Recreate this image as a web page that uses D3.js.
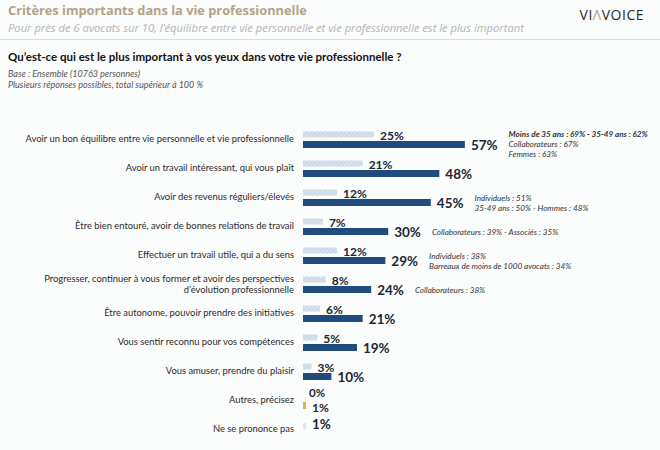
<!DOCTYPE html>
<html>
<head>
<meta charset="utf-8">
<script src="https://cdn.jsdelivr.net/npm/d3@7/dist/d3.min.js"></script>
<style>
  html, body { margin: 0; padding: 0; background: #fbfcfc; }
  svg { display: block; }
</style>
</head>
<body>
<script>
// ---- Data ----
const categories = [
  "Avoir un bon équilibre entre vie personnelle et vie professionnelle",
  "Avoir un travail intéressant, qui vous plaît",
  "Avoir des revenus réguliers/élevés",
  "Être bien entouré, avoir de bonnes relations de travail",
  "Effectuer un travail utile, qui a du sens",
  "Progresser, continuer à vous former et avoir des perspectives\nd’évolution professionnelle",
  "Être autonome, pouvoir prendre des initiatives",
  "Vous sentir reconnu pour vos compétences",
  "Vous amuser, prendre du plaisir",
  "Autres, précisez",
  "Ne se prononce pas"
];
const firstValues = [25, 21, 12, 7, 12, 8, 6, 5, 3, 0, null];
const totalValues = [57, 48, 45, 30, 29, 24, 21, 19, 10, 1, null];
const noAnswerValue = [null, null, null, null, null, null, null, null, null, null, 1];
const notes = [
  [{t: "Moins de 35 ans : 69% - 35-49 ans : 62%", b: true}, {t: "Collaborateurs : 67%"}, {t: "Femmes : 63%"}],
  [],
  [{t: "Individuels : 51%"}, {t: "35-49 ans : 50% - Hommes : 48%"}],
  [{t: "Collaborateurs : 39% - Associés : 35%"}],
  [{t: "Individuels : 38%"}, {t: "Barreaux de moins de 1000 avocats : 34%"}],
  [{t: "Collaborateurs : 38%"}],
  [], [], [], [], []
];
const titleText = "Critères importants dans la vie professionnelle";
const subtitleText = "Pour près de 6 avocats sur 10, l’équilibre entre vie personnelle et vie professionnelle est le plus important";
const questionText = "Qu’est-ce qui est le plus important à vos yeux dans votre vie professionnelle ?";
const baseLines = ["Base : Ensemble (10763 personnes)", "Plusieurs réponses possibles, total supérieur à 100 %"];

// ---- Layout ----
const W = 660, H = 450;
const svg = d3.select("body").append("svg").attr("width", W).attr("height", H);
const FONT = "Lato, 'Open Sans', sans-serif";

svg.append("rect").attr("width", W).attr("height", H).attr("fill", "#fbfcfc");

const defs = svg.append("defs");
const pat = defs.append("pattern").attr("id", "hatch").attr("patternUnits", "userSpaceOnUse")
  .attr("width", 3).attr("height", 3).attr("patternTransform", "rotate(45)");
pat.append("rect").attr("width", 3).attr("height", 3).attr("fill", "#c9d8e7");
pat.append("line").attr("x1", 0).attr("y1", 0).attr("x2", 0).attr("y2", 3)
  .attr("stroke", "#f2f6fa").attr("stroke-width", 1.2);

// Header
svg.append("text").attr("x", 8).attr("y", 15).text(titleText)
  .attr("font-family", "'Open Sans', sans-serif").attr("font-weight", 700)
  .attr("font-size", 12.8).attr("fill", "#b3a386");
svg.append("text").attr("x", 8).attr("y", 32).text(subtitleText)
  .attr("font-family", "'Open Sans', sans-serif").attr("font-style", "italic")
  .attr("font-size", 11.2).attr("fill", "#b4b4b4");
svg.append("line").attr("x1", 0).attr("x2", W).attr("y1", 39.5).attr("y2", 39.5)
  .attr("stroke", "#dcdcdc").attr("stroke-width", 1.2);

const logo = svg.append("text").attr("x", 644).attr("y", 20).attr("text-anchor", "end")
  .attr("font-family", "'Open Sans', sans-serif").attr("font-size", 14)
  .attr("letter-spacing", 0.5).attr("fill", "#2a2a2a");
logo.append("tspan").text("VI");
logo.append("tspan").text("Λ").attr("fill", "#b3a386");
logo.append("tspan").text("VOICE");

svg.append("text").attr("x", 8).attr("y", 61).text(questionText)
  .attr("font-family", FONT).attr("font-weight", 700)
  .attr("font-size", 11.5).attr("fill", "#111");
baseLines.forEach((t, i) => {
  svg.append("text").attr("x", 8).attr("y", 77 + i * 11).text(t)
    .attr("font-family", FONT).attr("font-style", "italic")
    .attr("font-size", 9).attr("fill", "#555");
});

// Scales
const x = d3.scaleLinear().domain([0, 100]).range([303, 587]);
const y = d3.scalePoint().domain(categories).range([139, 429]);

const rows = categories.map((c, i) => ({
  c, i, cy: y(c), first: firstValues[i], total: totalValues[i], nsp: noAnswerValue[i], notes: notes[i]
}));

const g = svg.append("g");

// Category labels
rows.forEach(r => {
  const lines = r.c.split("\n");
  const t = g.append("text").attr("text-anchor", "end")
    .attr("font-family", FONT).attr("font-size", 9.4).attr("fill", "#2b2b2b");
  lines.forEach((l, k) => {
    t.append("tspan").attr("x", 294)
      .attr("y", r.cy + 3.3 + (k - (lines.length - 1) / 2) * 10.5).text(l);
  });
});

// First-choice (hatched) bars
rows.filter(r => r.first != null).forEach(r => {
  if (r.first > 0) {
    g.append("rect").attr("x", x(0)).attr("y", r.cy - 7.5)
      .attr("width", x(r.first) - x(0)).attr("height", 6).attr("fill", "url(#hatch)");
  }
  const isOther = r.i === 9;
  g.append("text").attr("x", x(r.first) + 6).attr("y", r.cy + (isOther ? -3 : 0.5))
    .text(r.first + "%").attr("font-family", FONT).attr("font-weight", 700)
    .attr("font-size", isOther ? 11.5 : 12).attr("fill", "#1c2733");
});

// Total bars
rows.filter(r => r.total != null).forEach(r => {
  const isOther = r.i === 9;
  const bw = Math.max(x(r.total) - x(0), 3);
  g.append("rect").attr("x", x(0)).attr("y", r.cy + 2)
    .attr("width", bw).attr("height", 7)
    .attr("fill", isOther ? "#e2b23a" : "#1f4c7c");
  const lbl = g.append("text").attr("x", x(0) + bw + 6).attr("y", r.cy + (isOther ? 11.5 : 11))
    .text(r.total + "%").attr("font-family", FONT).attr("font-weight", 700)
    .attr("font-size", isOther ? 12 : 13.5).attr("fill", "#1c2733");
  if (r.notes.length) {
    const end = lbl.node().getBBox();
    const nx = end.x + end.width + 11;
    const n = r.notes.length;
    r.notes.forEach((nt, k) => {
      g.append("text").attr("x", nx).attr("y", r.cy + 9 - (n - 1) * 5.5 + k * 10)
        .text(nt.t).attr("font-family", FONT).attr("font-style", "italic")
        .attr("font-weight", nt.b ? 700 : 400)
        .attr("font-size", 8.1).attr("fill", "#333");
    });
  }
});

// "Ne se prononce pas"
rows.filter(r => r.nsp != null).forEach(r => {
  const bw = Math.max(x(r.nsp) - x(0), 3);
  g.append("rect").attr("x", x(0)).attr("y", r.cy - 6)
    .attr("width", bw).attr("height", 6).attr("fill", "#dfe7ef");
  g.append("text").attr("x", x(0) + bw + 6).attr("y", r.cy + 0)
    .text(r.nsp + "%").attr("font-family", FONT).attr("font-weight", 700)
    .attr("font-size", 13.5).attr("fill", "#1c2733");
});
</script>
</body>
</html>
